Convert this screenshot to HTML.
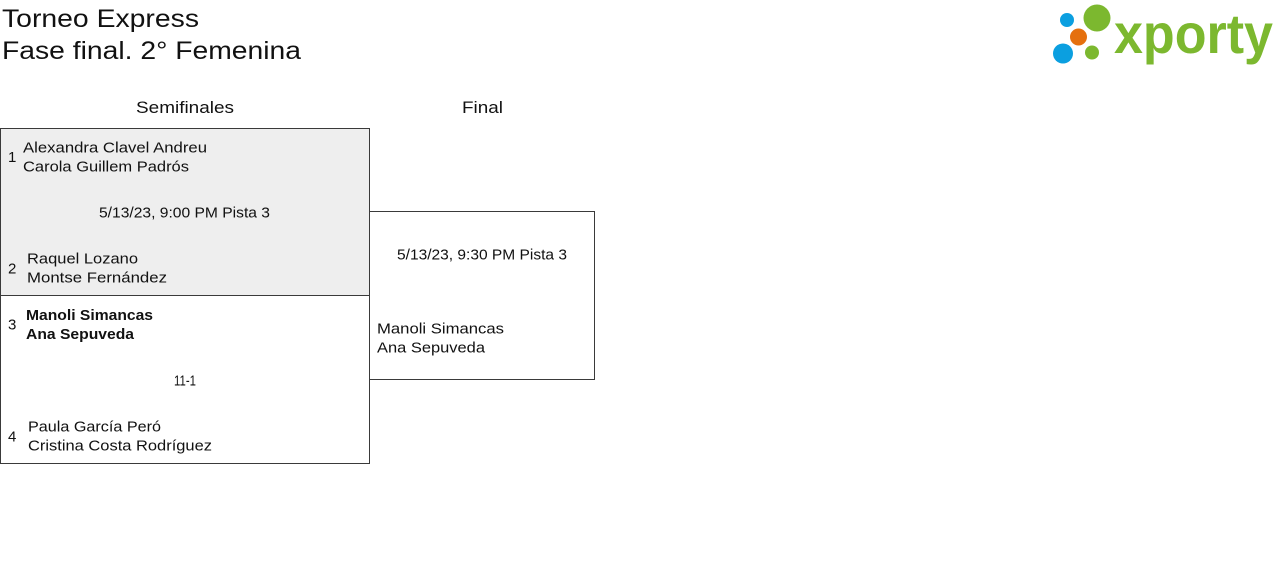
<!DOCTYPE html>
<html><head><meta charset="utf-8">
<style>
html,body{margin:0;padding:0;background:#fff;width:1280px;height:562px;overflow:hidden}
svg{display:block}
text{font-family:"Liberation Sans",Arial,sans-serif;fill:#111}
</style></head>
<body>
<svg width="1280" height="562" viewBox="0 0 1280 562" xmlns="http://www.w3.org/2000/svg">
<!-- title -->
<text x="2" y="27" font-size="25" textLength="197" lengthAdjust="spacingAndGlyphs">Torneo Express</text>
<text x="2" y="59" font-size="25" textLength="299" lengthAdjust="spacingAndGlyphs">Fase final. 2° Femenina</text>

<!-- logo -->
<circle cx="1067" cy="20" r="7" fill="#0b9fe0"/>
<circle cx="1097" cy="18" r="13.5" fill="#7cb82f"/>
<circle cx="1078.5" cy="37" r="8.5" fill="#e5700e"/>
<circle cx="1063" cy="53.5" r="10" fill="#0b9fe0"/>
<circle cx="1092" cy="52.5" r="7" fill="#7cb82f"/>
<text x="1114" y="53" font-size="56" font-weight="bold" style="fill:#7cb82f" textLength="159" lengthAdjust="spacingAndGlyphs">xporty</text>

<!-- headers -->
<text x="185" y="113" font-size="17" text-anchor="middle" textLength="98" lengthAdjust="spacingAndGlyphs">Semifinales</text>
<text x="482.5" y="113" font-size="17" text-anchor="middle" textLength="41" lengthAdjust="spacingAndGlyphs">Final</text>

<!-- semifinal boxes -->
<rect x="0.5" y="128.5" width="369" height="167" fill="#eeeeee" stroke="#3a3a3a" stroke-width="1"/>
<rect x="0.5" y="295.5" width="369" height="168" fill="#ffffff" stroke="#3a3a3a" stroke-width="1"/>
<!-- final box -->
<rect x="369.5" y="211.5" width="225" height="168" fill="#ffffff" stroke="#3a3a3a" stroke-width="1"/>

<!-- match 1 -->
<text x="8" y="162" font-size="15">1</text>
<text x="23" y="152.5" font-size="15" textLength="184" lengthAdjust="spacingAndGlyphs">Alexandra Clavel Andreu</text>
<text x="23" y="171.5" font-size="15" textLength="166" lengthAdjust="spacingAndGlyphs">Carola Guillem Padrós</text>
<text x="99" y="217.5" font-size="15" textLength="171" lengthAdjust="spacingAndGlyphs">5/13/23, 9:00 PM Pista 3</text>
<text x="8" y="273.5" font-size="15">2</text>
<text x="27" y="263.5" font-size="15" textLength="111" lengthAdjust="spacingAndGlyphs">Raquel Lozano</text>
<text x="27" y="282.5" font-size="15" textLength="140" lengthAdjust="spacingAndGlyphs">Montse Fernández</text>

<!-- match 2 -->
<text x="8" y="329.5" font-size="15">3</text>
<text x="26" y="320" font-size="15" font-weight="bold" textLength="127" lengthAdjust="spacingAndGlyphs">Manoli Simancas</text>
<text x="26" y="339" font-size="15" font-weight="bold" textLength="108" lengthAdjust="spacingAndGlyphs">Ana Sepuveda</text>
<text x="174" y="385.5" font-size="15" textLength="22" lengthAdjust="spacingAndGlyphs">11-1</text>
<text x="8" y="441.5" font-size="15">4</text>
<text x="28" y="431.5" font-size="15" textLength="133" lengthAdjust="spacingAndGlyphs">Paula García Peró</text>
<text x="28" y="450.5" font-size="15" textLength="184" lengthAdjust="spacingAndGlyphs">Cristina Costa Rodríguez</text>

<!-- final -->
<text x="397" y="259.5" font-size="15" textLength="170" lengthAdjust="spacingAndGlyphs">5/13/23, 9:30 PM Pista 3</text>
<text x="377" y="333.5" font-size="15" textLength="127" lengthAdjust="spacingAndGlyphs">Manoli Simancas</text>
<text x="377" y="352.5" font-size="15" textLength="108" lengthAdjust="spacingAndGlyphs">Ana Sepuveda</text>
</svg>
</body></html>
